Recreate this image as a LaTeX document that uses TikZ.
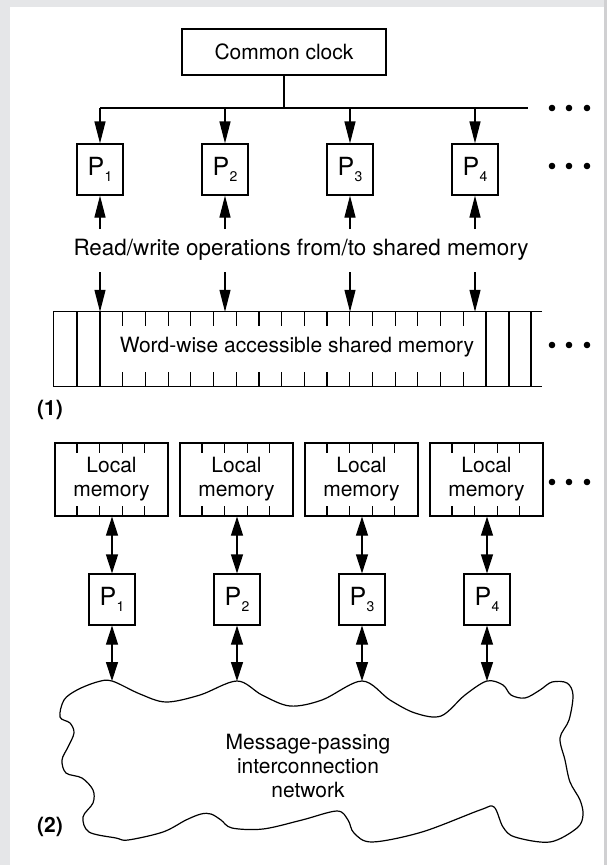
\documentclass[tikz,border=0pt]{standalone}
\usepackage{fontspec}
\setmainfont{TeX Gyre Heros}
\usetikzlibrary{arrows.meta}
\definecolor{framegray}{RGB}{229,230,232}
\definecolor{edgegray}{RGB}{208,208,210}
\newcommand{\Pl}[1]{{\fontsize{25}{25}\selectfont P}\kern0.5pt\raisebox{-6pt}{\fontsize{14}{14}\selectfont #1}}
\begin{document}
\begin{tikzpicture}[x=1pt,y=-1pt,
  every node/.style={font=\fontsize{21}{24}\selectfont, inner sep=0pt},
  box/.style={draw, line width=1.2pt, rectangle},
  pbox/.style={box, minimum width=46pt, minimum height=51pt},
  lmbox/.style={box, minimum width=113pt, minimum height=73pt, align=center},
  ln/.style={line width=1.2pt},
  arr/.style={line width=1.2pt, -{Triangle[length=22pt,width=11pt]}},
  darr/.style={line width=1.2pt, {Triangle[length=19pt,width=12pt]}-{Triangle[length=19pt,width=12pt]}},
  lbl/.style={font=\fontsize{21}{24}\selectfont\bfseries}
]
\fill[framegray] (0,0) rectangle (607,865);
\fill[edgegray] (604,0) rectangle (607,865);
\fill[white] (10,7) rectangle (604,865);
\useasboundingbox (0,0) rectangle (607,865);

% ---------- Part (1)
\node[box, minimum width=204pt, minimum height=46pt] (clock) at (284,52) {Common clock};
\coordinate (bus) at (284,108);
\coordinate (busL) at (100,108);
\coordinate (busR) at (528,108);
\draw[ln] (clock.south) -- (bus);
\draw[ln] (busL) -- (busR);
\foreach \x in {552,569,587} \fill (\x,108) circle (3.3pt);

\foreach \i in {1,...,4} {
  \node[pbox] (p\i) at ({100+125*(\i-1)},169.5) {\Pl{\i}};
  \draw[arr] (p\i |- bus) -- (p\i.north);
  \coordinate (u\i) at ({100+125*(\i-1)},229);
  \draw[arr] (u\i) -- (p\i.south);
}
\foreach \x in {552,569,587} \fill (\x,166) circle (3.3pt);

\node[font=\fontsize{22.4}{26}\selectfont] (rw) at (301,250) {Read/write operations from/to shared memory};

\node[minimum width=488pt, minimum height=74pt] (mem) at (298,349) {};
\draw[ln] (mem.north east) -- (mem.north west) -- (mem.south west) -- (mem.south east);
\foreach \x in {77,100,486,509,531} \draw[ln] (\x,312) -- (\x,386);
\foreach \k in {1,...,16} {
  \draw[ln] ({100+22.7*\k},312) -- ({100+22.7*\k},326);
  \draw[ln] ({100+22.7*\k},372) -- ({100+22.7*\k},386);
}
\node (memtext) at (297,347) {Word-wise accessible shared memory};
\foreach \i in {1,...,4} {
  \coordinate (d\i) at ({100+125*(\i-1)},272);
  \draw[arr] (d\i) -- (d\i |- mem.north);
}
\foreach \x in {552,569,587} \fill (\x,345) circle (3.3pt);
\node[lbl] (lab1) at (50,410) {(1)};

% ---------- Part (2)
\foreach \i in {1,...,4} {
  \node[lmbox] (lm\i) at ({111.5+125*(\i-1)},479.5) {Local\\memory};
  \foreach \j in {1,...,4} {
    \draw[ln] ([xshift={22.6*\j*1pt}]lm\i.north west) -- ++(0,11);
    \draw[ln] ([xshift={22.6*\j*1pt}]lm\i.south west) -- ++(0,-11);
  }
  \node[pbox] (q\i) at ({112+125*(\i-1)},599.5) {\Pl{\i}};
  \draw[darr] (lm\i.south -| q\i) -- (q\i.north);
  \coordinate (c\i) at ({112+125*(\i-1)},681);
  \draw[darr] (q\i.south) -- (c\i);
}
\foreach \x in {552,569,587} \fill (\x,482) circle (3.3pt);

\draw[ln, line join=round] plot[smooth cycle, tension=0.55] coordinates {
 (112,681) (140,694) (166,702) (200,695) (237,681) (262,695) (290,706) (322,700) (362,681)
 (390,700) (415,713) (441,716) (465,695) (487,681) (503,685) (511,695) (525,698) (540,690)
 (552,682) (567,683) (573,695) (569,720) (560,738) (565,760) (570,782) (580,800) (583,815)
 (577,828) (550,842) (515,837) (503,827) (494,807) (480,810) (422,832) (372,842) (354,833)
 (348,820) (337,811) (302,820) (263,829) (232,828) (221,820) (211,814) (201,814) (186,820)
 (163,832) (128,840) (116,838) (89,832) (83,817) (93,803) (93,790) (82,778) (66,773) (62,760)
 (68,747) (74,733) (70,723) (60,717) (64,700) (77,690) (97,682)};
\node[align=center] (net) at (308,766) {Message-passing\\interconnection\\network};
\node[lbl] (lab2) at (50,827) {(2)};
\end{tikzpicture}
\end{document}
